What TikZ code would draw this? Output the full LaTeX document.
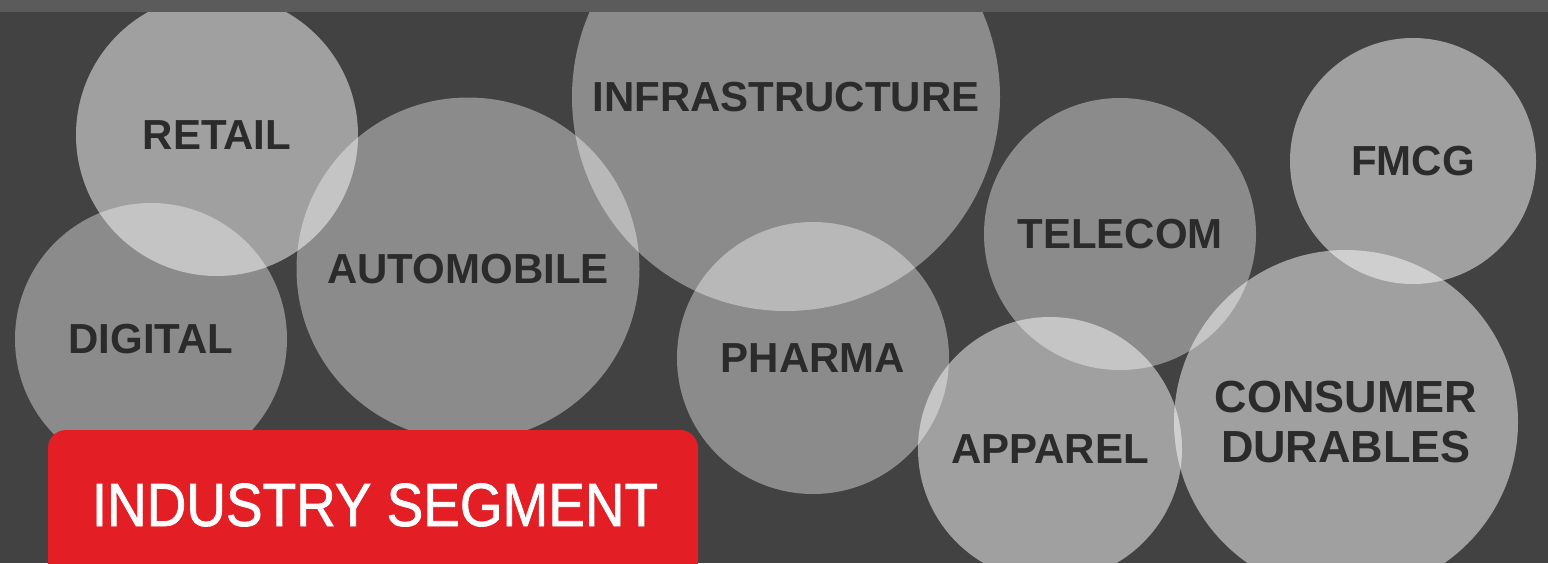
\documentclass[tikz,border=0pt]{standalone}
\usepackage{fontspec}
\setmainfont{Liberation Sans}
\newfontfamily\narrowfont{Liberation Sans}[FakeStretch=0.9, FakeBold=1.2]
\definecolor{canvas}{HTML}{424242}
\definecolor{topstrip}{HTML}{5B5B5B}
\definecolor{labelink}{HTML}{2B2B2B}
\definecolor{bandred}{HTML}{E31E24}
\tikzset{
  bubble/.style={circle, inner sep=0pt, fill=white, text opacity=1,
    text=labelink, align=center,
    font=\fontsize{42}{48}\selectfont\bfseries},
  pale/.style={bubble, fill opacity=0.5},
  deep/.style={bubble, fill opacity=0.39},
  band/.style={rectangle, rounded corners=18pt, fill=bandred, text=white,
    inner sep=0pt, font=\narrowfont\fontsize{61}{70}\selectfont}
}
\begin{document}
\begin{tikzpicture}[x=1pt,y=-1pt]
  % page and background
  \useasboundingbox (0,0) rectangle (1548,563);
  \fill[canvas] (0,0) rectangle (1548,563);

  % segment bubbles
  \node[pale, minimum size=282pt] (retail) at (217,135) {RETAIL};
  \node[deep, minimum size=272pt] (digital) at (151,339) {DIGITAL};
  \node[deep, minimum size=343pt] (auto) at (468,269) {AUTOMOBILE};
  \node[deep, minimum size=428pt] (infra) at (786,97) {INFRASTRUCTURE};
  \node[deep, minimum size=272pt] (pharma) at (813,358) {PHARMA};
  \node[deep, minimum size=272pt] (telecom) at (1120,234) {TELECOM};
  \node[pale, minimum size=246pt] (fmcg) at (1413,161) {FMCG};
  \node[pale, minimum size=264pt] (apparel) at (1050,449) {APPAREL};
  \node[pale, minimum size=344pt, font=\fontsize{45}{50}\selectfont\bfseries]
    (durables) at (1346,422) {CONSUMER\\DURABLES};

  % title band
  \node[band, minimum width=650pt, minimum height=150pt] (title) at (373,505)
    {\hspace*{4pt}INDUSTRY SEGMENT};

  % top strip
  \fill[topstrip] (0,0) rectangle (1548,12);
\end{tikzpicture}
\end{document}
